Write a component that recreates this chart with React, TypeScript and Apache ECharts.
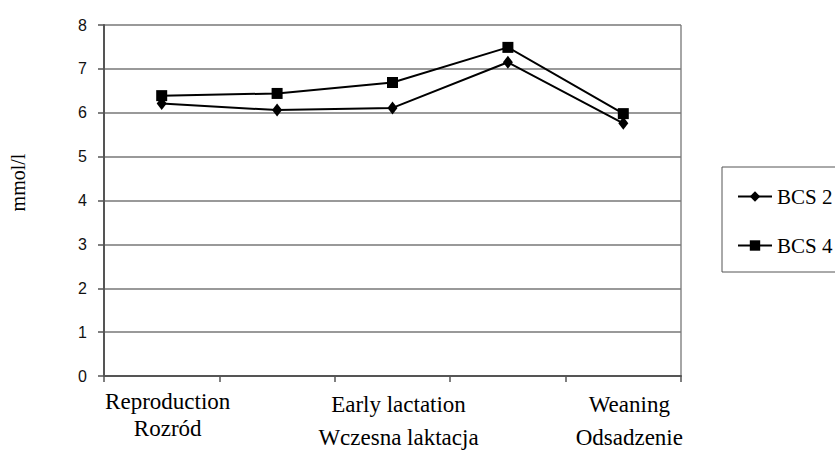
import React, { useEffect, useRef } from "react";
import * as echarts from "echarts";

const categories = [
  "Reproduction\nRozród",
  "",
  "Early lactation\nWczesna laktacja",
  "",
  "Weaning\nOdsadzenie",
];
const bcs2 = [6.21, 6.06, 6.11, 7.15, 5.76];
const bcs4 = [6.39, 6.44, 6.69, 7.49, 5.98];
const yTicks = { min: 0, max: 8, interval: 1 };

export default function App() {
  const ref = useRef<HTMLDivElement>(null);
  useEffect(() => {
    if (!ref.current) return;
    const chart = echarts.init(ref.current, null, { renderer: "svg" });
    const serif = "Liberation Serif";
    chart.setOption({
      animation: false,
      backgroundColor: "#fff",
      textStyle: { fontFamily: serif },
      grid: { left: 97, top: 25, right: 154, bottom: 79, containLabel: false },
      legend: {
        orient: "vertical",
        left: 722,
        top: 167,
        padding: [19, 40, 16, 15],
        itemWidth: 34,
        itemHeight: 13,
        itemGap: 28,
        borderColor: "#555",
        borderWidth: 1,
        textStyle: { fontFamily: serif, fontSize: 21, color: "#000" },
        data: ["BCS 2", "BCS 4"],
      },
      xAxis: {
        type: "category",
        data: categories,
        boundaryGap: true,
        axisLine: { lineStyle: { color: "#555", width: 2 } },
        axisTick: { show: true, interval: 0, length: 6, lineStyle: { color: "#555", width: 1.5 } },
        axisLabel: {
          interval: 0,
          margin: 12,
          padding: [0, 0, 0, 12],
          color: "#000",
          fontFamily: serif,
          fontSize: 23,
          formatter: (v: string, i: number) => {
            const lines = v.split("\n");
            const key = i === 0 ? "a" : "b";
            return lines.map((l) => `{${key}|${l}}`).join("\n");
          },
          rich: {
            a: { fontFamily: serif, fontSize: 23, lineHeight: 27, color: "#000" },
            b: { fontFamily: serif, fontSize: 23, lineHeight: 33, color: "#000" },
          },
        },
      },
      yAxis: {
        type: "value",
        min: yTicks.min,
        max: yTicks.max,
        interval: yTicks.interval,
        name: "mmol/l",
        nameLocation: "middle",
        nameGap: 76,
        nameRotate: 90,
        nameTextStyle: { fontFamily: serif, fontSize: 20, color: "#000", padding: [0, 0, 0, 36] },
        axisLine: { show: true, lineStyle: { color: "#555", width: 2 } },
        axisTick: { show: true, length: 6, lineStyle: { color: "#555", width: 1.5 } },
        axisLabel: {
          margin: 17,
          color: "#111",
          fontFamily: "Liberation Sans",
          fontSize: 16,
        },
        splitLine: { show: true, lineStyle: { color: "#777", width: 1.5 } },
      },
      graphic: [
        {
          type: "line",
          shape: { x1: 681, y1: 25, x2: 681, y2: 376 },
          style: { stroke: "#888", lineWidth: 1.5 },
        },
      ],
      series: [
        {
          name: "BCS 2",
          type: "line",
          data: bcs2,
          symbol: "diamond",
          symbolSize: [10, 13],
          lineStyle: { color: "#000", width: 2 },
          itemStyle: { color: "#000" },
        },
        {
          name: "BCS 4",
          type: "line",
          data: bcs4,
          symbol: "rect",
          symbolSize: 11,
          lineStyle: { color: "#000", width: 2 },
          itemStyle: { color: "#000" },
        },
      ],
    });
    return () => chart.dispose();
  }, []);
  return <div ref={ref} style={{ width: 835, height: 455, position: "absolute", left: 0, top: 0 }} />;
}
